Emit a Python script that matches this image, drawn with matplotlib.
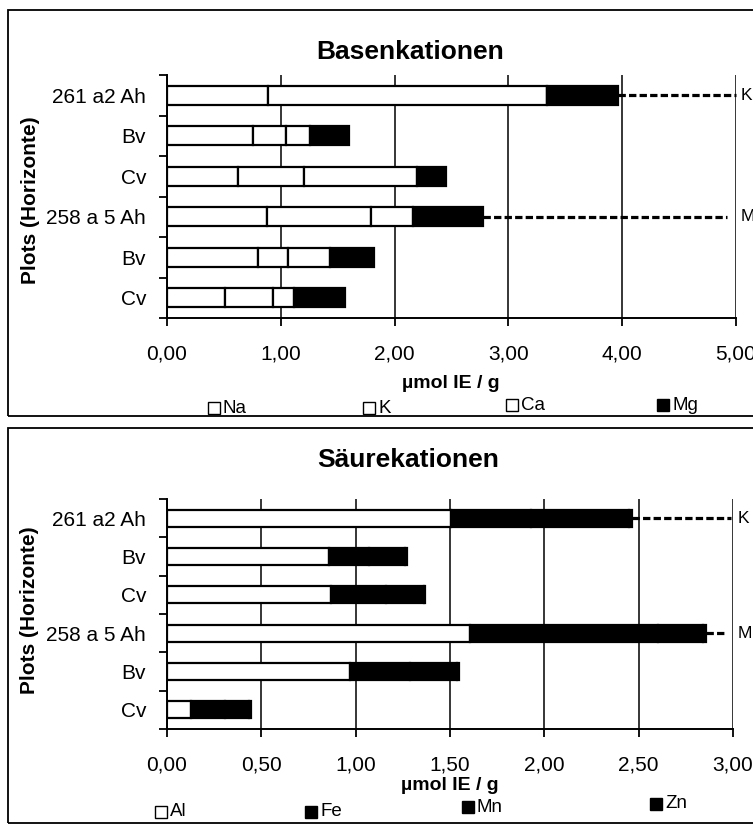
import matplotlib.pyplot as plt
from matplotlib.patches import Rectangle
from matplotlib.ticker import FuncFormatter, MultipleLocator

plt.rcParams["font.family"] = ["Liberation Sans", "DejaVu Sans"]

W, H = 753, 826

horizons = ["261 a2 Ah", "Bv", "Cv", "258 a 5 Ah", "Bv", "Cv"]

# Basenkationen, µmol IE / g
base_names = ["Na", "K", "Ca", "Mg"]
na = [0.89, 0.76, 0.62, 0.875, 0.80, 0.51]
k = [2.45, 0.29, 0.58, 0.915, 0.265, 0.42]
ca = [0.00, 0.21, 1.00, 0.37, 0.365, 0.19]
mg = [0.62, 0.34, 0.25, 0.62, 0.39, 0.44]

# Säurekationen, µmol IE / g
acid_names = ["Al", "Fe", "Mn", "Zn"]
al = [1.505, 0.857, 0.87, 1.605, 0.968, 0.127]
fe = [0.425, 0.213, 0.29, 0.995, 0.32, 0.18]
mn = [0.52, 0.19, 0.20, 0.24, 0.25, 0.13]
zn = [0.016, 0.01, 0.01, 0.015, 0.009, 0.01]

# marker lines to the right of the first bar of each plot
marker_rows = [0, 3]
marker_labels = ["K", "M"]


def px_x(x):
    return x / W


def px_y(y):
    return 1 - y / H


def comma(v, pos):
    return f"{v:.2f}".replace(".", ",")


def draw_panel(ax, series, colors, xmax, step, line_ends, bar_h):
    n = len(horizons)
    ypos = list(range(n))
    left = [0.0] * n
    for vals, col in zip(series, colors):
        ax.barh(ypos, vals, left=left, height=bar_h, color=col,
                edgecolor="black", linewidth=1.6, zorder=3)
        left = [a + b for a, b in zip(left, vals)]

    for row, lab, end in zip(marker_rows, marker_labels, line_ends):
        ax.plot([left[row], end], [row, row], color="black", lw=2.3,
                dashes=(2.3, 1.0), clip_on=False, zorder=4)
        ax.annotate(lab, xy=(xmax, row), xytext=(3, 0),
                    textcoords="offset points", va="center", ha="left",
                    fontsize=12.5, annotation_clip=False)

    ax.set_xlim(0, xmax)
    ax.set_ylim(n - 0.5, -0.5)
    ax.xaxis.set_major_locator(MultipleLocator(step))
    ax.xaxis.set_major_formatter(FuncFormatter(comma))
    ax.grid(axis="x", color="black", linewidth=1.1, zorder=0)
    ax.set_yticks(ypos)
    ax.set_yticklabels(horizons)
    ax.set_yticks([i - 0.5 for i in range(n + 1)], minor=True)
    ax.tick_params(axis="y", which="major", length=0, pad=15, labelsize=15)
    ax.tick_params(axis="y", which="minor", length=6, width=1.3, direction="out")
    ax.tick_params(axis="x", length=6, width=1.3, direction="out", pad=13,
                   labelsize=15)
    ax.spines["top"].set_visible(False)
    ax.spines["right"].set_visible(False)
    ax.spines["left"].set_linewidth(1.4)
    ax.spines["bottom"].set_linewidth(1.4)
    ax.set_axisbelow(True)


fig = plt.figure(figsize=(W / 100, H / 100), dpi=100)

# panel frames
fig.add_artist(Rectangle((px_x(8), px_y(416)), 1.0, (416 - 10) / H,
                         transform=fig.transFigure, fill=False, lw=1.3))
fig.add_artist(Rectangle((px_x(8), px_y(823)), 1.0, (823 - 428) / H,
                         transform=fig.transFigure, fill=False, lw=1.3))

# top panel
ax1 = fig.add_axes([px_x(167), px_y(318), (736 - 167) / W, (318 - 75) / H])
draw_panel(ax1, [na, k, ca, mg], ["white", "white", "white", "black"],
           5.0, 1.0, [5.0, 4.92], 0.46)

# bottom panel
ax2 = fig.add_axes([px_x(167), px_y(729), (733 - 167) / W, (729 - 499) / H])
draw_panel(ax2, [al, fe, mn, zn], ["white", "black", "black", "black"],
           3.0, 0.5, [2.99, 2.97], 0.44)

# titles and axis labels
fig.text(px_x(410), px_y(52), "Basenkationen", ha="center", va="center",
         fontsize=19, fontweight="bold")
fig.text(px_x(408), px_y(460), "Säurekationen", ha="center", va="center",
         fontsize=19, fontweight="bold")
fig.text(px_x(451), px_y(384), "µmol IE / g", ha="center", va="center",
         fontsize=14, fontweight="bold")
fig.text(px_x(450), px_y(785), "µmol IE / g", ha="center", va="center",
         fontsize=14, fontweight="bold")
fig.text(px_x(31), px_y(200), "Plots (Horizonte)", ha="center", va="center",
         rotation=90, fontsize=15, fontweight="bold")
fig.text(px_x(30), px_y(610), "Plots (Horizonte)", ha="center", va="center",
         rotation=90, fontsize=15, fontweight="bold")

# legends
top_leg = [(208, 408), (363, 408), (506, 405), (657, 405)]
bot_leg = [(155, 812), (305, 812), (462, 807), (650, 804)]
for names, cols, spots in [
        (base_names, ["white", "white", "white", "black"], top_leg),
        (acid_names, ["white", "black", "black", "black"], bot_leg)]:
    for name, col, (x, y) in zip(names, cols, spots):
        fig.add_artist(Rectangle((px_x(x), px_y(y + 6)), 12 / W, 12 / H,
                                 transform=fig.transFigure, facecolor=col,
                                 edgecolor="black", lw=1.0))
        fig.text(px_x(x + 15), px_y(y), name, ha="left", va="center",
                 fontsize=13.5)

fig.savefig("out.png", dpi=100)
